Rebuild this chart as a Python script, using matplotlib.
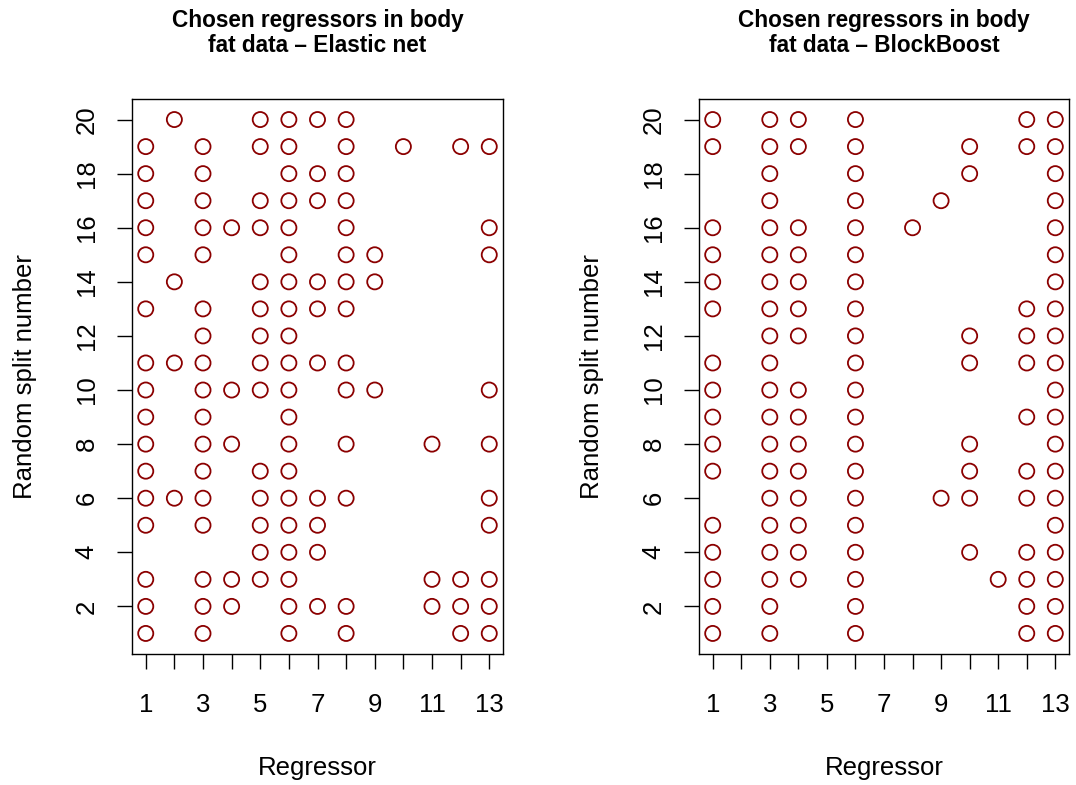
import matplotlib
matplotlib.use("Agg")
import matplotlib.pyplot as plt

plt.rcParams['font.family'] = ['Liberation Sans', 'DejaVu Sans']

# Random split numbers 1..20
splits = list(range(1, 21))

# Chosen regressors for each split (index 0 -> split 1)
elastic_net = [
    [1, 3, 6, 8, 12, 13],            # 1
    [1, 3, 4, 6, 7, 8, 11, 12, 13],  # 2
    [1, 3, 4, 5, 6, 11, 12, 13],     # 3
    [5, 6, 7],                       # 4
    [1, 3, 5, 6, 7, 13],             # 5
    [1, 2, 3, 5, 6, 7, 8, 13],       # 6
    [1, 3, 5, 6],                    # 7
    [1, 3, 4, 6, 8, 11, 13],         # 8
    [1, 3, 6],                       # 9
    [1, 3, 4, 5, 6, 8, 9, 13],       # 10
    [1, 2, 3, 5, 6, 7, 8],           # 11
    [3, 5, 6],                       # 12
    [1, 3, 5, 6, 7, 8],              # 13
    [2, 5, 6, 7, 8, 9],              # 14
    [1, 3, 6, 8, 9, 13],             # 15
    [1, 3, 4, 5, 6, 8, 13],          # 16
    [1, 3, 5, 6, 7, 8],              # 17
    [1, 3, 6, 7, 8],                 # 18
    [1, 3, 5, 6, 8, 10, 12, 13],     # 19
    [2, 5, 6, 7, 8],                 # 20
]

blockboost = [
    [1, 3, 6, 12, 13],               # 1
    [1, 3, 6, 12, 13],               # 2
    [1, 3, 4, 6, 11, 12, 13],        # 3
    [1, 3, 4, 6, 10, 12, 13],        # 4
    [1, 3, 4, 6, 13],                # 5
    [3, 4, 6, 9, 10, 12, 13],        # 6
    [1, 3, 4, 6, 10, 12, 13],        # 7
    [1, 3, 4, 6, 10, 13],            # 8
    [1, 3, 4, 6, 12, 13],            # 9
    [1, 3, 4, 6, 13],                # 10
    [1, 3, 6, 10, 12, 13],           # 11
    [3, 4, 6, 10, 12, 13],           # 12
    [1, 3, 4, 6, 12, 13],            # 13
    [1, 3, 4, 6, 13],                # 14
    [1, 3, 4, 6, 13],                # 15
    [1, 3, 4, 6, 8, 13],             # 16
    [3, 6, 9, 13],                   # 17
    [3, 6, 10, 13],                  # 18
    [1, 3, 4, 6, 10, 12, 13],        # 19
    [1, 3, 4, 6, 12, 13],            # 20
]

titles = ["Chosen regressors in body\nfat data \u2013 Elastic net",
          "Chosen regressors in body\nfat data \u2013 BlockBoost"]
x_ticks = list(range(1, 14))
x_ticklabels = [str(v) if v % 2 == 1 else "" for v in x_ticks]
y_ticks = list(range(2, 21, 2))

W, H = 1076, 785
fig = plt.figure(figsize=(W / 100, H / 100), dpi=100)

boxes = [(132, 99, 503, 654), (699, 99, 1069, 654)]
ylab_x = [25, 592]
color = '#8B0000'
base_fs = 18.5
title_fs = 16.3

for (l, t, r, b), rows, title, ylx in zip(boxes, [elastic_net, blockboost], titles, ylab_x):
    ax = fig.add_axes([l / W, 1 - b / H, (r - l) / W, (b - t) / H])
    xs, ys = [], []
    for s, regs in zip(splits, rows):
        for reg in regs:
            xs.append(reg)
            ys.append(s)
    ax.scatter(xs, ys, s=118, facecolors='none', edgecolors=color, linewidths=1.3, zorder=3)
    ax.set_xlim(0.52, 13.48)
    ax.set_ylim(0.24, 20.76)
    ax.set_xticks(x_ticks)
    ax.set_xticklabels(x_ticklabels)
    ax.set_yticks(y_ticks)
    ax.set_yticklabels([str(v) for v in y_ticks], rotation=90, va='center')
    ax.tick_params(axis='both', direction='out', length=11, width=1.0, labelsize=base_fs, colors='black')
    ax.tick_params(axis='x', pad=17)
    ax.tick_params(axis='y', pad=13)
    for sp in ax.spines.values():
        sp.set_linewidth(1.0)
        sp.set_color('black')
    cx = (l + r) / 2
    line1, line2 = title.split("\n")
    fig.text(cx / W, 1 - 20 / H, line1, ha='center', va='center',
             fontsize=title_fs, fontweight='bold')
    fig.text(cx / W, 1 - 45 / H, line2, ha='center', va='center',
             fontsize=title_fs, fontweight='bold')
    fig.text(cx / W, 1 - 768 / H, "Regressor", ha='center', va='center', fontsize=base_fs)
    fig.text(ylx / W, 1 - ((t + b) / 2) / H, "Random split number", ha='center', va='center',
             fontsize=base_fs, rotation=90)

fig.savefig("out.png", dpi=100, facecolor='white')
